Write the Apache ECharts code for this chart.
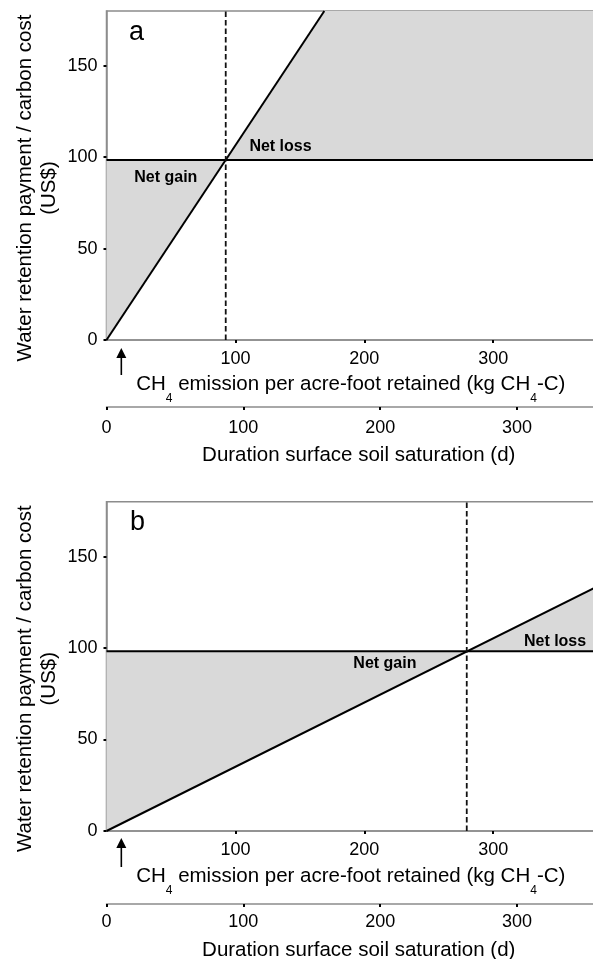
<!DOCTYPE html>
<html>
<head>
<meta charset="utf-8">
<script src="https://cdn.jsdelivr.net/npm/echarts@6/dist/echarts.min.js"></script>
<style>
html, body { margin: 0; padding: 0; background: #fff; }
#chart { width: 593px; height: 959px; }
</style>
</head>
<body>
<div id="chart"></div>
<script>
var font = "'Liberation Sans', Arial, Helvetica, sans-serif";

// axis ranges and ticks
var emissionMax = 379;
var durationMax = 357;
var costMax = 180;
var costTicks = [0, 50, 100, 150];
var emissionTicks = [100, 200, 300];
var durationTicks = [0, 100, 200, 300];

// panel a
var paymentA = [[0, 98.5], [379, 98.5]];
var costA = [[0, 0], [169, 180]];
var breakEvenA = [[92.5, 0], [92.5, 180]];
var gainA = [[0, 0], [0, 98.5], [92.5, 98.5]];
var lossA = [[92.5, 98.5], [169, 180], [379, 180], [379, 98.5]];
var labelsA = [[46, 89, 'Net gain'], [135, 106, 'Net loss']];

// panel b
var paymentB = [[0, 98.2], [379, 98.2]];
var costB = [[0, 0], [379, 133]];
var breakEvenB = [[279.5, 0], [279.5, 180]];
var gainB = [[0, 0], [0, 98.2], [279.5, 98.2]];
var lossB = [[279.5, 98.2], [379, 133], [379, 98.2]];
var labelsB = [[216, 91.6, 'Net gain'], [348, 103.7, 'Net loss']];

// arrow position on the emission axis
var arrowAt = 11.5;

var myChart = echarts.init(document.getElementById('chart'));

var gray = '#8c8c8c';
var emissionName = '{t|CH}{s|4}{t| emission per acre-foot retained (kg CH}{s|4}{t|-C)}';

function primaryAxis(gi, gap) {
	return {
		type: 'value', gridIndex: gi, position: 'bottom', min: 0, max: emissionMax,
		axisLine: { show: true, lineStyle: { color: gray, width: 1.5 } },
		axisTick: { show: true, length: 3, customValues: emissionTicks, lineStyle: { color: '#000', width: 2 } },
		axisLabel: { customValues: emissionTicks, margin: 10, fontSize: 18, color: '#000', fontFamily: font },
		splitLine: { show: false },
		name: emissionName, nameLocation: 'middle', nameGap: gap,
		nameTextStyle: {
			fontFamily: font, color: '#000',
			rich: {
				t: { fontSize: 20.5, fontFamily: font, color: '#000', lineHeight: 22, verticalAlign: 'top' },
				s: { fontSize: 12, fontFamily: font, color: '#000', lineHeight: 12, verticalAlign: 'top', padding: [19, 0, 0, 0] }
			}
		}
	};
}

function secondaryAxis(gi, offset, margin, gap) {
	return {
		type: 'value', gridIndex: gi, position: 'bottom', offset: offset, min: 0, max: durationMax,
		axisLine: { show: true, lineStyle: { color: gray, width: 1.5 } },
		axisTick: { show: true, length: 3, customValues: durationTicks, lineStyle: { color: '#000', width: 2 } },
		axisLabel: { customValues: durationTicks, margin: margin, fontSize: 18, color: '#000', fontFamily: font },
		splitLine: { show: false },
		name: 'Duration surface soil saturation (d)', nameLocation: 'middle', nameGap: gap,
		nameTextStyle: { fontSize: 20.5, fontFamily: font, color: '#000', padding: [0, 0, 0, 16] }
	};
}

function costAxis(gi) {
	return {
		type: 'value', gridIndex: gi, min: 0, max: costMax,
		axisLine: { show: true, lineStyle: { color: gray, width: 1.5 } },
		axisTick: { show: true, length: 3, customValues: costTicks, lineStyle: { color: '#000', width: 2 } },
		axisLabel: { customValues: costTicks, margin: 9, fontSize: 18, color: '#000', fontFamily: font },
		splitLine: { show: false }
	};
}

function area(pts, gi) {
	return {
		type: 'custom', xAxisIndex: gi * 2, yAxisIndex: gi, data: [[0, 0]], clip: true, z: 1, silent: true,
		renderItem: function(params, api) {
			return {
				type: 'polygon',
				shape: { points: pts.map(function(p) { return api.coord(p); }) },
				style: { fill: '#d9d9d9' }
			};
		}
	};
}

function line(pts, gi, dashed) {
	return {
		type: 'line', xAxisIndex: gi * 2, yAxisIndex: gi, data: pts, symbol: 'none', silent: true, z: dashed ? 4 : 3,
		lineStyle: { color: dashed ? '#111' : '#000', width: dashed ? 1.8 : 2, type: dashed ? [5.5, 3] : 'solid' }
	};
}

function labels(list, gi) {
	return {
		type: 'scatter', xAxisIndex: gi * 2, yAxisIndex: gi, symbolSize: 0, silent: true, z: 5,
		itemStyle: { opacity: 1 },
		data: list.map(function(l) { return { value: [l[0], l[1]], name: l[2] }; }),
		label: { show: true, position: 'inside', formatter: '{b}', fontFamily: font, fontWeight: 'bold', fontSize: 16, color: '#000', opacity: 1, textBorderWidth: 0 }
	};
}

var option = {
	animation: false,
	backgroundColor: '#fff',
	title: [
		{ text: 'a', left: 124, top: 14, textStyle: { fontSize: 27, fontWeight: 'normal', fontFamily: font, color: '#000' } },
		{ text: 'b', left: 125, top: 504, textStyle: { fontSize: 27, fontWeight: 'normal', fontFamily: font, color: '#000' } }
	],
	grid: [
		{ left: 106.5, top: 11, width: 488.5, height: 329, show: true, borderColor: gray, borderWidth: 1.5, outerBoundsMode: 'none' },
		{ left: 106.5, top: 501.7, width: 488.5, height: 329.3, show: true, borderColor: gray, borderWidth: 1.5, outerBoundsMode: 'none' }
	],
	xAxis: [
		primaryAxis(0, 34),
		secondaryAxis(0, 67, 12, 37.4),
		primaryAxis(1, 34.7),
		secondaryAxis(1, 73, 9, 35.4)
	],
	yAxis: [costAxis(0), costAxis(1)],
	series: [
		area(gainA, 0), area(lossA, 0),
		line(paymentA, 0), line(costA, 0), line(breakEvenA, 0, true),
		labels(labelsA, 0),
		area(gainB, 1), area(lossB, 1),
		line(paymentB, 1), line(costB, 1), line(breakEvenB, 1, true),
		labels(labelsB, 1)
	]
};
myChart.setOption(option);

// y titles and arrows
var yTitle = 'Water retention payment / carbon cost\n(US$)';
var ax = myChart.convertToPixel({ xAxisIndex: 0 }, arrowAt);
var bx = myChart.convertToPixel({ xAxisIndex: 2 }, arrowAt);

function arrow(x, tip, end) {
	return {
		type: 'group',
		children: [
			{ type: 'line', shape: { x1: x, y1: tip + 6, x2: x, y2: end }, style: { stroke: '#000', lineWidth: 1.6 } },
			{ type: 'polygon', shape: { points: [[x, tip], [x - 5, tip + 10], [x + 5, tip + 10]] }, style: { fill: '#000' } }
		]
	};
}

myChart.setOption({
	graphic: [
		{ type: 'text', x: 37, y: 188, rotation: Math.PI / 2,
			style: { text: yTitle, fontSize: 20.5, fontFamily: font, fill: '#000', align: 'center', verticalAlign: 'middle', lineHeight: 24 } },
		{ type: 'text', x: 37, y: 678.7, rotation: Math.PI / 2,
			style: { text: yTitle, fontSize: 20.5, fontFamily: font, fill: '#000', align: 'center', verticalAlign: 'middle', lineHeight: 24 } },
		arrow(ax, 348, 375),
		arrow(bx, 838, 867)
	]
});
</script>
</body>
</html>
